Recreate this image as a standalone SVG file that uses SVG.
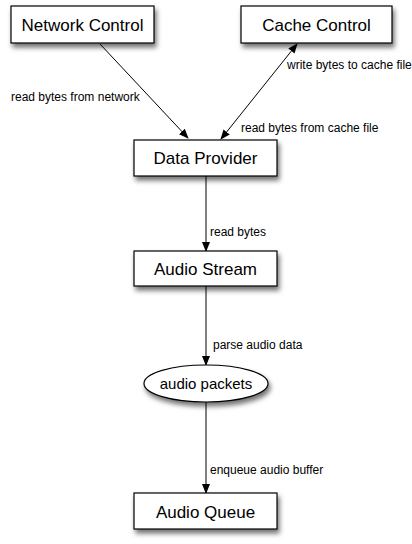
<svg xmlns="http://www.w3.org/2000/svg" width="412" height="544" viewBox="0 0 412 544">
<style>
.box{fill:#fff;stroke:#000;stroke-width:1.2;filter:url(#sh)}
.t{font-family:"Liberation Sans",Arial,sans-serif;font-size:17px;text-anchor:middle;fill:#000}
.l{font-family:"Liberation Sans",Arial,sans-serif;font-size:12px;fill:#000}
.c{stroke:#000;stroke-width:1;fill:none}
</style>
<defs>
<filter id="sh" x="-20%" y="-30%" width="150%" height="190%">
<feDropShadow dx="2" dy="4" stdDeviation="2.5" flood-color="#000" flood-opacity="0.55"/>
</filter>
<marker id="ah" markerWidth="10" markerHeight="8" refX="9" refY="4" orient="auto" markerUnits="userSpaceOnUse">
<path d="M0,0 L10,4 L0,8 Z" fill="#000"/>
</marker>
<marker id="as" markerWidth="10" markerHeight="8" refX="1" refY="4" orient="auto" markerUnits="userSpaceOnUse">
<path d="M10,0 L0,4 L10,8 Z" fill="#000"/>
</marker>
</defs>
<g id="connectors">
<line class="c" x1="100" y1="44" x2="188" y2="138" marker-end="url(#ah)"/>
<line class="c" x1="297" y1="44" x2="221" y2="139" marker-start="url(#as)" marker-end="url(#ah)"/>
<line class="c" x1="206" y1="176" x2="206" y2="251" marker-end="url(#ah)"/>
<line class="c" x1="206" y1="286" x2="206" y2="365" marker-end="url(#ah)"/>
<line class="c" x1="206" y1="402" x2="206" y2="493" marker-end="url(#ah)"/>
<text class="l" x="11" y="101">read bytes from network</text>
<text class="l" x="287" y="69">write bytes to cache file</text>
<text class="l" x="241" y="132">read bytes from cache file</text>
<text class="l" x="210" y="236">read bytes</text>
<text class="l" x="213" y="349">parse audio data</text>
<text class="l" x="210" y="474">enqueue audio buffer</text>
</g>
<g id="network-control">
<rect class="box" x="11" y="6" width="143" height="37"/>
<text class="t" x="82.5" y="31">Network Control</text>
</g>
<g id="cache-control">
<rect class="box" x="241" y="6" width="151" height="37"/>
<text class="t" x="316.5" y="31">Cache Control</text>
</g>
<g id="data-provider">
<rect class="box" x="134" y="140" width="143" height="36"/>
<text class="t" x="205.5" y="164">Data Provider</text>
</g>
<g id="audio-stream">
<rect class="box" x="134" y="251" width="143" height="35"/>
<text class="t" x="205.5" y="275">Audio Stream</text>
</g>
<g id="audio-packets">
<ellipse class="box" cx="206" cy="383.5" rx="62" ry="18.5"/>
<text class="t" x="206" y="389" style="font-size:15px">audio packets</text>
</g>
<g id="audio-queue">
<rect class="box" x="134" y="493" width="143" height="36"/>
<text class="t" x="205.5" y="518">Audio Queue</text>
</g>
</svg>
